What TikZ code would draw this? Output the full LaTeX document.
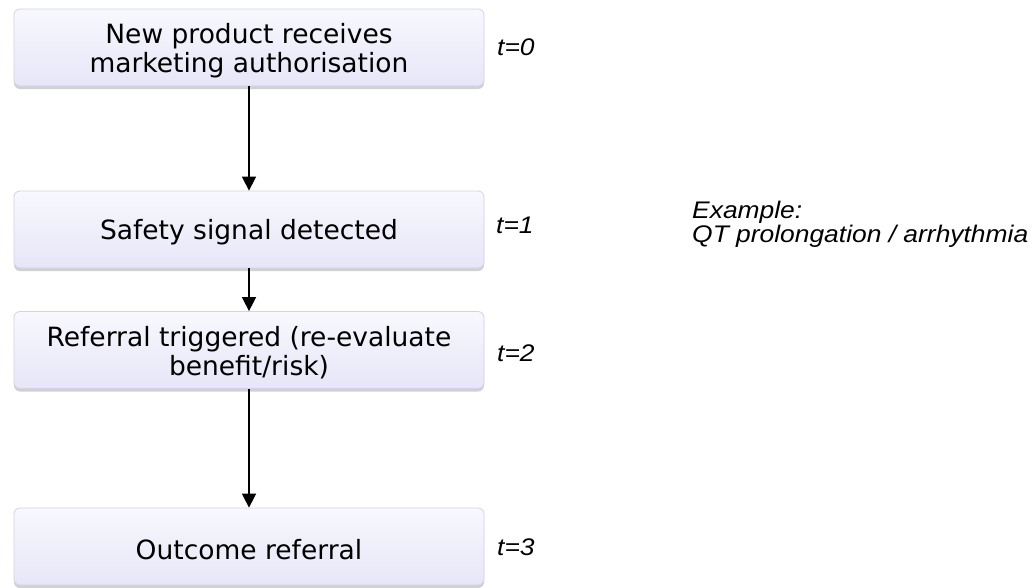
\documentclass[tikz,border=0pt]{standalone}
\usepackage{fontspec}
\setmainfont{DejaVu Sans}
\newfontfamily\lblfont[FakeStretch=1.1]{Liberation Sans}
\usetikzlibrary{arrows.meta,shadows}
\definecolor{boxtop}{HTML}{F8F8FE}
\definecolor{boxbot}{HTML}{E6E6F8}
\definecolor{boxline}{HTML}{D2D2EA}
\newcommand{\lowline}[1]{\raisebox{-3pt}[\height][\depth]{#1}}
\tikzset{
  flowbox/.style={rounded corners=6pt, draw=boxline, line width=0.8pt,
    top color=boxtop, bottom color=boxbot,
    drop shadow={shadow xshift=0pt, shadow yshift=-3pt, opacity=0.3, fill=black!60},
    minimum width=470pt, minimum height=77pt, align=center,
    font=\fontsize{26.5}{29}\selectfont, inner sep=0pt},
  tlabel/.style={anchor=west, font=\lblfont\itshape\fontsize{24}{24}\selectfont, inner sep=0pt},
  flowarrow/.style={line width=1.6pt, -{Triangle[width=14pt,length=14pt]}}
}
\begin{document}
\begin{tikzpicture}[x=1pt,y=-1pt]
\useasboundingbox (0,0) rectangle (1032,587);
\node[flowbox] (b1) at (249,47.5) {\lowline{New product receives}\\\lowline{marketing authorisation}};
\node[flowbox] (b2) at (249,229.5) {\lowline{Safety signal detected}};
\node[flowbox] (b3) at (249,350) {\lowline{Referral triggered (re-evaluate}\\\lowline{benefit/risk)}};
\node[flowbox] (b4) at (249,546.5) {\lowline{Outcome referral}};
\draw[flowarrow] (b1) -- (b2);
\draw[flowarrow] (b2) -- (b3);
\draw[flowarrow] (b3) -- (b4);
\node[tlabel] (t0) at (497,47) {t=0};
\node[tlabel] (t1) at (496,225) {t=1};
\node[tlabel] (t2) at (497,353) {t=2};
\node[tlabel] (t3) at (497,547) {t=3};
\node[tlabel, align=left] (ex) at (692,224) {Example:\\QT prolongation / arrhythmia};
\end{tikzpicture}
\end{document}
